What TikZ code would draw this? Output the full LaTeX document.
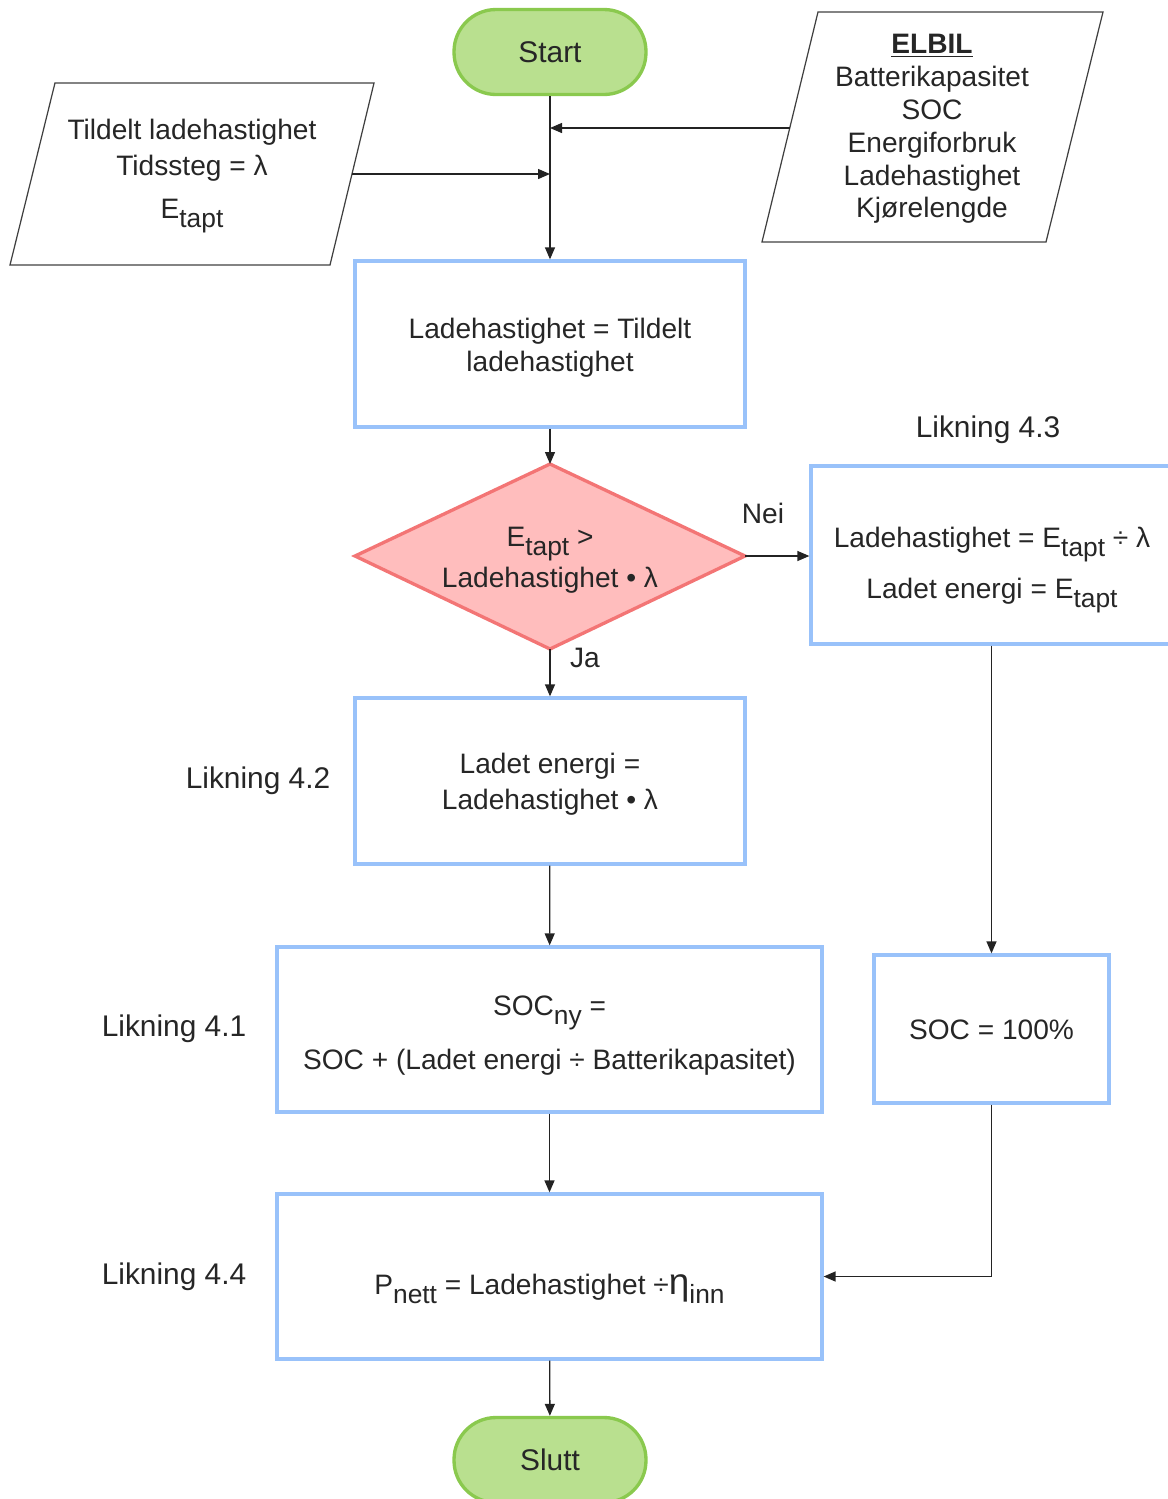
\documentclass[tikz,border=0pt]{standalone}
\usepackage{fontspec}
\setmainfont{Liberation Sans}
\usetikzlibrary{arrows.meta}
\definecolor{gfill}{RGB}{185,224,143}
\definecolor{gline}{RGB}{138,201,78}
\definecolor{pfill}{RGB}{255,189,189}
\definecolor{pline}{RGB}{243,117,117}
\definecolor{bline}{RGB}{153,194,250}
\definecolor{aline}{RGB}{35,35,35}
\newcommand\lowt[1]{\raisebox{-0.6ex}{\fontsize{15}{15}\selectfont #1}}
\begin{document}
\begin{tikzpicture}[x=0.02cm,y=-0.02cm,
  every node/.style={font=\fontsize{16}{18.7}\selectfont, text=black!85},
  term/.style={draw=gline, fill=gfill, line width=1.9pt, rounded corners=0.84cm, minimum width=3.84cm, minimum height=1.7cm, font=\fontsize{17}{20}\selectfont},
  proc/.style={draw=bline, line width=1.9pt, minimum height=3.32cm, align=center},
  io/.style={draw=black!75, line width=0.7pt},
  conn/.style={draw=aline, line width=0.75pt, -{Triangle[length=0.24cm,width=0.2cm]}},
  lbl/.style={font=\fontsize{17}{20}\selectfont}]
\useasboundingbox (0,0) rectangle (1168,1499);

% terminals
\node[term] (start) at (550,52) {Start};
\node[term] (slutt) at (550,1460) {Slutt};

% input parallelograms
\draw[io] (10,265) -- (55,83) -- (374,83) -- (330,265) -- cycle;
\node[align=center] (inp) at (192,176) {Tildelt ladehastighet\\[0.06cm] Tidssteg = λ\\[0.22cm] E\lowt{tapt}};
\coordinate (inpR) at (352,174);
\draw[io] (762,242) -- (818,12) -- (1103,12) -- (1046,242) -- cycle;
\node[align=center] (elbil) at (932,129) {\underline{\textbf{ELBIL}}\\ Batterikapasitet\\ SOC\\ Energiforbruk\\ Ladehastighet\\ Kjørelengde};
\coordinate (elbilL) at (790,128);
\coordinate (j1) at (550,174);
\coordinate (j2) at (550,128);

% process boxes
\node[proc, minimum width=7.8cm] (b1) at (550,344) {};
\node[align=center] (t1) at (550,348) {Ladehastighet = Tildelt\\ ladehastighet};

\coordinate (dT) at (550,464);
\coordinate (dB) at (550,649);
\coordinate (dL) at (355,556);
\coordinate (dR) at (745,556);
\draw[draw=pline, fill=pfill, line width=1.9pt] (dT) -- (dR) -- (dB) -- (dL) -- cycle;
\node[align=center] (dia) at (550,560) {E\lowt{tapt} >\\[0.08cm] Ladehastighet • λ};

\node[proc, minimum width=7.3cm, minimum height=3.56cm] (b43) at (993.5,555) {};
\node[align=center] (t43) at (992,570) {Ladehastighet = E\lowt{tapt} ÷ λ\\[0.3cm] Ladet energi = E\lowt{tapt}};
\node[proc, minimum width=7.8cm] (b42) at (550,781) {};
\node[align=center] (t42) at (550,784) {Ladet energi =\\[0.06cm] Ladehastighet • λ};
\node[proc, minimum width=10.9cm, minimum height=3.3cm] (b41) at (549.5,1029.5) {};
\node[align=center] (t41) at (549.5,1036) {SOC\lowt{ny} =\\[0.35cm] SOC + (Ladet energi ÷ Batterikapasitet)};
\node[proc, minimum width=4.7cm, minimum height=2.96cm] (soc) at (991.5,1029) {};
\node (tsoc) at (991.5,1030) {SOC = 100\%};
\node[proc, minimum width=10.9cm, minimum height=3.3cm] (b44) at (549.5,1276.5) {};
\node (t44) at (549.5,1289) {P\lowt{nett} = Ladehastighet ÷{\fontsize{21}{21}\selectfont η}\lowt{inn}};

% labels
\node[lbl] (l43) at (988,430) {Likning 4.3};
\node (nei) at (763,513) {Nei};
\node (ja) at (585,658) {Ja};
\node[lbl] (l42) at (258,781) {Likning 4.2};
\node[lbl] (l41) at (174,1029) {Likning 4.1};
\node[lbl] (l44) at (174,1277) {Likning 4.4};

% connectors
\draw[conn] (start) -- (b1);
\draw[conn] (inpR) -- (j1);
\draw[conn] (elbilL) -- (j2);
\draw[conn] (b1) -- (dT);
\draw[conn] (dR) -- (dR -| b43.west);
\draw[conn] (dB) -- (b42);
\draw[conn] (b42) -- (b41);
\draw[conn] (soc.north |- b43.south) -- (soc.north);
\draw[conn] (b41) -- (b44);
\draw[conn] (soc.south) |- (b44.east);
\draw[conn] (b44) -- (slutt);
\end{tikzpicture}
\end{document}
